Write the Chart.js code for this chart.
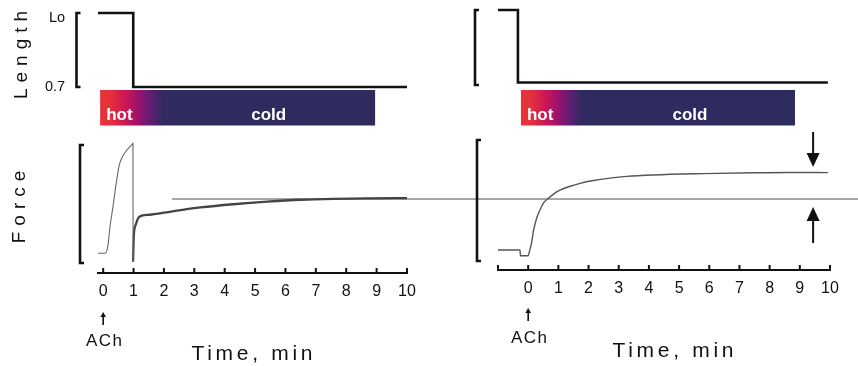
<!DOCTYPE html>
<html>
<head>
<meta charset="utf-8">
<script src="https://cdn.jsdelivr.net/npm/chart.js@4.4.1/dist/chart.umd.min.js"></script>
<style>
  body { margin:0; background:#fff; }
  #fig { position:relative; width:858px; height:366px; overflow:hidden; font-family:"Liberation Sans", Arial, sans-serif; color:#111; }
  #fig canvas { position:absolute; left:0; top:0; }
  .t { position:absolute; transform:translate(-50%,-50%); white-space:nowrap; line-height:1; }
  .v { transform:translate(-50%,-50%) rotate(-90deg); }
</style>
</head>
<body>
<div id="fig">
  <canvas id="left" width="858" height="366"></canvas>
  <canvas id="right" width="858" height="366"></canvas>

  <div class="t v" style="left:20px;top:55px;font-size:19px;letter-spacing:6px;padding-left:6px">Length</div>
  <div class="t v" style="left:18px;top:207px;font-size:19px;letter-spacing:6px;padding-left:6px">Force</div>
  <div class="t" style="left:57px;top:17px;font-size:14.5px">Lo</div>
  <div class="t" style="left:55px;top:86px;font-size:14.5px">0.7</div>
  <div class="t" style="left:104px;top:340px;font-size:17px;letter-spacing:1.5px;padding-left:1.5px">ACh</div>
  <div class="t" style="left:529px;top:337px;font-size:17px;letter-spacing:1.5px;padding-left:1.5px">ACh</div>
  <div class="t" style="left:252px;top:352px;font-size:21px;letter-spacing:3.7px;padding-left:3.7px">Time, min</div>
  <div class="t" style="left:673px;top:349px;font-size:21px;letter-spacing:3.7px;padding-left:3.7px">Time, min</div>
</div>

<script>
// ---- time axes (min) ----
const ticksLeft  = [0, 1, 2, 3, 4, 5, 6, 7, 8, 9, 10];
const ticksRight = [-1, 0, 1, 2, 3, 4, 5, 6, 7, 8, 9, 10];

// ---- length traces (fraction of Lo) ----
const lenTimeL = [-0.17, 0.99, 0.99, 10];
const lenValL  = [1.0, 1.0, 0.7, 0.7];
const lenTimeR = [-1, -0.34, -0.34, 9.93];
const lenValR  = [1.0, 1.0, 0.71, 0.71];

// ---- force traces (% of calibration bar) ----
// left: hot activation then quick release, cold recovery
const riseTimeL = [-0.17, 0.07, 0.16, 0.22, 0.33, 0.43, 0.53, 0.63, 0.76, 0.96, 0.98, 0.985];
const riseValL  = [8.2, 8.2, 15.3, 29.7, 49, 67.8, 83, 89.8, 95, 100.8, 101.6, 1.1];
const coldTimeL = [0.985, 1.01, 1.07, 1.15, 1.27, 1.54, 1.87, 2.2, 2.75, 3.2, 4.28, 5.4, 6.5, 7.6, 8.7, 10];
const coldValL  = [1.1, 23.7, 32.2, 37.9, 40.1, 40.9, 42.0, 43.4, 45.6, 47.1, 49.8, 52.0, 53.6, 54.4, 54.8, 55.0];
// right: released first, then activated
const forceTimeR = [-1, -0.27, -0.26, 0, 0.04, 0.12, 0.17, 0.28, 0.39, 0.5, 0.67, 0.83, 1.05, 1.39, 1.72, 2.16, 2.71, 3.26, 4.14, 5.79, 7.45, 8.57, 9.93];
const forceValR  = [9.1, 9.1, 4.4, 4.4, 7.7, 15.9, 24.2, 35.3, 42.1, 47.7, 51.8, 55.1, 58.5, 61.8, 64.2, 66.5, 68.5, 69.9, 71.1, 72.2, 72.9, 73.2, 73.0];

// reference level of the left plateau, carried across both panels
const refTime = [2.27, 30];
const refVal  = [54.2, 54.2];

// temperature bars: [start, end] and the hot->cold blend, in min
const barL = [-0.1, 8.95],  blendL = [0.2, 2.0], coldAtL = 5.45;
const barR = [-0.24, 8.84], blendR = [0.05, 1.8], coldAtR = 5.36;

// difference arrows on the right panel
const arrowTimeR = 9.44;
const arrowDown = [106.6, 77.7];
const arrowUp   = [14.9, 44.6];

const W = 858, H = 366;
const FONT = '"Liberation Sans", Arial, sans-serif';

function pts(xs, ys){ return xs.map((x, i) => ({x, y: ys[i]})); }

// y range so that value v1 sits at pixel p1 and v2 at p2 in an area top..bottom
function fitRange(v1, p1, v2, p2, top, bottom){
  const k = (p2 - p1) / (v1 - v2);
  const max = v1 + (p1 - top) / k;
  return { min: max - (bottom - top) / k, max };
}

function arrow(ctx, x, yFrom, yTo, head, half){
  const dir = yTo > yFrom ? 1 : -1;
  ctx.beginPath(); ctx.moveTo(x, yFrom); ctx.lineTo(x, yTo - dir * head * 0.6); ctx.stroke();
  ctx.beginPath(); ctx.moveTo(x, yTo); ctx.lineTo(x - half, yTo - dir * head); ctx.lineTo(x + half, yTo - dir * head); ctx.closePath(); ctx.fill();
}

function decorFor(p){
  return {
    id: 'decor',
    afterDatasetsDraw(chart){
      const ctx = chart.ctx, a = chart.chartArea;
      const x = chart.scales.x, yL = chart.scales.yLen, yF = chart.scales.yF;
      ctx.save();
      ctx.strokeStyle = '#111'; ctx.fillStyle = '#111';
      // calibration brackets
      ctx.lineWidth = 2.6;
      [[a.left - p.lenGap, yL.getPixelForValue(1), yL.getPixelForValue(0.7)],
       [a.left - p.forceGap, yF.getPixelForValue(100), yF.getPixelForValue(0)]].forEach(([bx, t, b]) => {
        ctx.beginPath(); ctx.moveTo(bx + 4, t); ctx.lineTo(bx, t); ctx.lineTo(bx, b); ctx.lineTo(bx + 4, b); ctx.stroke();
      });
      // tick marks point up from the time axis
      ctx.lineWidth = 2;
      p.ticks.forEach(v => {
        const px = x.getPixelForValue(v);
        ctx.beginPath(); ctx.moveTo(px, a.bottom - 5); ctx.lineTo(px, a.bottom); ctx.stroke();
      });
      // hot -> cold bar
      const b0 = x.getPixelForValue(p.bar[0]), b1 = x.getPixelForValue(p.bar[1]);
      const g = ctx.createLinearGradient(x.getPixelForValue(p.blend[0]), 0, x.getPixelForValue(p.blend[1]), 0);
      g.addColorStop(0, '#e6333b');
      g.addColorStop(0.3, '#cc1656');
      g.addColorStop(0.55, '#981270');
      g.addColorStop(0.8, '#552070');
      g.addColorStop(1, '#2f2b5f');
      ctx.fillStyle = g;
      ctx.fillRect(b0, 90, b1 - b0, 35.5);
      ctx.fillStyle = '#fff';
      ctx.font = 'bold 17px ' + FONT;
      ctx.textBaseline = 'alphabetic';
      ctx.textAlign = 'left';
      ctx.fillText('hot', b0 + 6, 120);
      ctx.textAlign = 'center';
      ctx.fillText('cold', x.getPixelForValue(p.coldAt), 120);
      // ACh marker under t = 0
      ctx.fillStyle = '#111'; ctx.strokeStyle = '#111'; ctx.lineWidth = 1.6;
      arrow(ctx, x.getPixelForValue(0), p.achY + 13, p.achY, 5, 2.8);
      // difference arrows
      if (p.arrows){
        ctx.lineWidth = 2;
        const ax = x.getPixelForValue(arrowTimeR);
        arrow(ctx, ax, yF.getPixelForValue(arrowDown[0]), yF.getPixelForValue(arrowDown[1]), 14, 6.5);
        arrow(ctx, ax, yF.getPixelForValue(arrowUp[0]), yF.getPixelForValue(arrowUp[1]), 14, 6.5);
      }
      ctx.restore();
    }
  };
}

function panel(id, p){
  const top = 5;
  const yLen = fitRange(1, p.lenTop, 0.7, p.lenBottom, top, p.axisY);
  const yF = fitRange(100, p.forceTop, 0, p.forceBottom, top, p.axisY);
  return new Chart(document.getElementById(id), {
    type: 'line',
    data: { datasets: p.datasets },
    options: {
      responsive: false,
      animation: false,
      devicePixelRatio: 1,
      events: [],
      layout: { padding: { left: p.left, right: W - p.right, top: top, bottom: 0 } },
      plugins: { legend: { display: false }, tooltip: { enabled: false } },
      elements: { point: { radius: 0 } },
      scales: {
        x: {
          type: 'linear', min: p.min, max: p.max,
          afterBuildTicks: s => { s.ticks = p.ticks.map(v => ({ value: v })); },
          afterFit: s => { s.height = H - p.axisY; },
          grid: { display: false, drawTicks: false },
          border: { display: true, color: '#111', width: 2 },
          ticks: {
            padding: 9, color: '#111', autoSkip: false, maxRotation: 0,
            font: { family: FONT, size: 16 },
            callback: v => v < 0 ? '' : String(v)
          }
        },
        yLen: { type: 'linear', display: false, min: yLen.min, max: yLen.max },
        yF: { type: 'linear', display: false, min: yF.min, max: yF.max }
      }
    },
    plugins: [decorFor(p)]
  });
}

const lenStyle = { yAxisID: 'yLen', borderColor: '#111', borderWidth: 2.6, tension: 0 };

panel('left', {
  left: 98, right: 407, axisY: 273, min: -0.17, max: 10,
  lenTop: 13, lenBottom: 87, forceTop: 145, forceBottom: 263,
  lenGap: 21.5, forceGap: 18, achY: 312,
  ticks: ticksLeft, bar: barL, blend: blendL, coldAt: coldAtL, arrows: false,
  datasets: [
    { ...lenStyle, data: pts(lenTimeL, lenValL) },
    { yAxisID: 'yF', data: pts(riseTimeL, riseValL), borderColor: '#666', borderWidth: 1.1, cubicInterpolationMode: 'monotone' },
    { yAxisID: 'yF', data: pts(coldTimeL, coldValL), borderColor: '#444', borderWidth: 2.3, cubicInterpolationMode: 'monotone' },
    { yAxisID: 'yF', data: pts(refTime, refVal), borderColor: '#8a8a8a', borderWidth: 1.5, clip: false }
  ]
});

panel('right', {
  left: 498, right: 830, axisY: 270, min: -1, max: 10,
  lenTop: 10, lenBottom: 85, forceTop: 140, forceBottom: 261,
  lenGap: 23, forceGap: 21, achY: 308,
  ticks: ticksRight, bar: barR, blend: blendR, coldAt: coldAtR, arrows: true,
  datasets: [
    { ...lenStyle, data: pts(lenTimeR, lenValR) },
    { yAxisID: 'yF', data: pts(forceTimeR, forceValR), borderColor: '#555', borderWidth: 1.4, cubicInterpolationMode: 'monotone' }
  ]
});
</script>
</body>
</html>
